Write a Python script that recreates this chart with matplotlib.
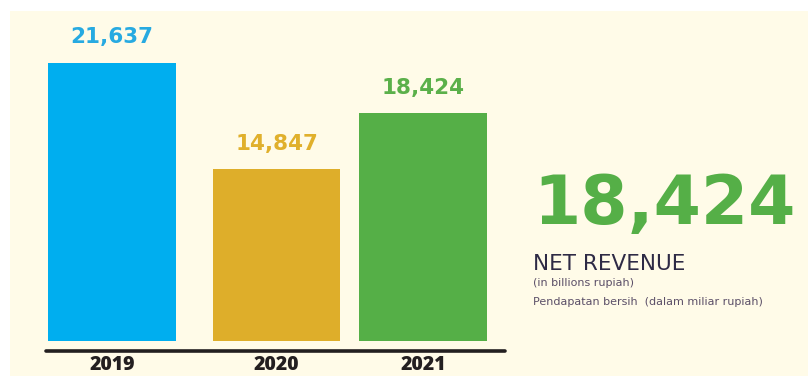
import matplotlib.pyplot as plt
from matplotlib.patches import Rectangle

years = ["2019", "2020", "2021"]
revenue = [21637, 14847, 18424]
bar_colors = ["#00AEEF", "#DEAE2A", "#55AF47"]
label_colors = ["#27AAE1", "#E0B02C", "#5BB04A"]

headline_value = revenue[-1]
headline_title = "NET REVENUE"
headline_unit = "(in billions rupiah)"
headline_local = "Pendapatan bersih  (dalam miliar rupiah)"

W, H = 808, 376
fig = plt.figure(figsize=(W / 100, H / 100), dpi=100)
fig.patch.set_facecolor("white")

# cream panel behind everything
fig.patches.append(Rectangle((10 / W, 0), 1 - 10 / W, (H - 11) / H,
                             transform=fig.transFigure, facecolor="#FFFBE8",
                             edgecolor="none", zorder=-5))

ax = fig.add_axes([45.7 / W, 35 / H, 459.3 / W, 330 / H])
ax.set_facecolor("none")
ax.set_zorder(2)

xpos = [0, 1, 1.89]
ax.bar(xpos, revenue, width=0.778, color=bar_colors, zorder=2)
ax.set_xlim(-0.403, 2.389)
ax.set_ylim(3910, 24930)

for x, v, c in zip(xpos, revenue, label_colors):
    ax.annotate(f"{v:,}", (x, v), xytext=(0, 14), textcoords="offset points",
                ha="center", va="baseline", fontsize=15.5, fontweight="bold",
                color=c, family="DejaVu Sans")

for side in ["top", "right", "left"]:
    ax.spines[side].set_visible(False)
ax.spines["bottom"].set_position(("outward", 7))
ax.spines["bottom"].set_linewidth(2.6)
ax.spines["bottom"].set_color("#231F20")
ax.spines["bottom"].set_capstyle("round")

ax.set_yticks([])
ax.set_xticks(xpos)
ax.set_xticklabels(years, fontsize=14, fontweight="heavy", color="#231F20",
                   family="Open Sans")
ax.tick_params(axis="x", length=0, pad=3)

# headline figure on the right
fig.text(533 / W, (H - 224) / H, f"{headline_value:,}", fontsize=49,
         fontweight="bold", color="#55AF47", family="DejaVu Sans", va="baseline")
fig.text(533 / W, (H - 270.5) / H, headline_title, fontsize=15.5,
         color="#2E2A45", family="DejaVu Sans", va="baseline")
fig.text(533 / W, (H - 286.5) / H, headline_unit, fontsize=8,
         color="#5B4F68", family="DejaVu Sans", va="baseline")
fig.text(533 / W, (H - 305) / H, headline_local, fontsize=8,
         color="#5B4F68", family="DejaVu Sans", va="baseline")

fig.savefig("out.png", dpi=100)
